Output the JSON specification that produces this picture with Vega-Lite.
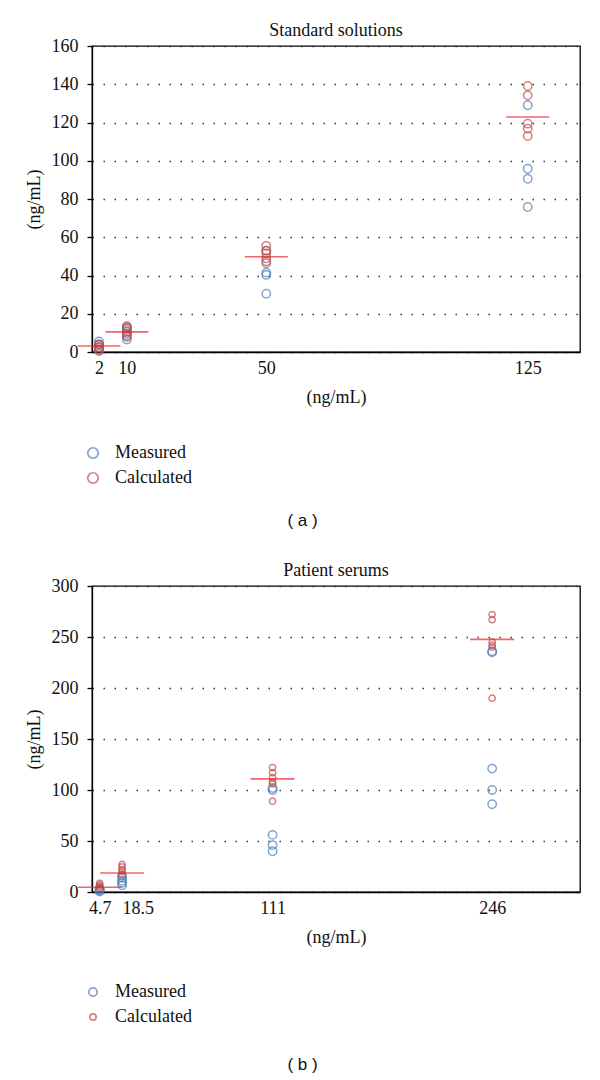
{
  "$schema": "https://vega.github.io/schema/vega-lite/v6.json",
  "background": "white",
  "padding": {"left": 24, "top": 21, "right": 20, "bottom": 5},
  "spacing": 32,
  "config": {
    "font": "Liberation Serif",
    "view": {"stroke": "#000", "strokeWidth": 1.3},
    "axis": {
      "labelFont": "Liberation Serif",
      "labelFontSize": 18,
      "labelColor": "#111",
      "labelOverlap": false,
      "titleFont": "Liberation Serif",
      "titleFontSize": 18,
      "titleFontWeight": "normal",
      "titleColor": "#111",
      "domainColor": "#000",
      "domainWidth": 1.3,
      "tickColor": "#000",
      "tickWidth": 1.3
    },
    "title": {"font": "Liberation Serif", "fontSize": 18, "fontWeight": "normal", "color": "#111"},
    "legend": {"labelFont": "Liberation Serif", "labelFontSize": 18, "labelColor": "#111"}
  },
  "datasets": {
    "a_points": [
      {"conc": 2, "series": "Measured", "value": 1.0},
      {"conc": 2, "series": "Measured", "value": 2.5},
      {"conc": 2, "series": "Measured", "value": 4.0},
      {"conc": 2, "series": "Measured", "value": 5.5},
      {"conc": 2, "series": "Calculated", "value": 0.5},
      {"conc": 2, "series": "Calculated", "value": 1.5},
      {"conc": 2, "series": "Calculated", "value": 2.5},
      {"conc": 2, "series": "Calculated", "value": 3.5},
      {"conc": 2, "series": "Calculated", "value": 4.0},
      {"conc": 10, "series": "Measured", "value": 6.5},
      {"conc": 10, "series": "Measured", "value": 8.5},
      {"conc": 10, "series": "Measured", "value": 10.5},
      {"conc": 10, "series": "Measured", "value": 12.0},
      {"conc": 10, "series": "Measured", "value": 13.0},
      {"conc": 10, "series": "Calculated", "value": 8.0},
      {"conc": 10, "series": "Calculated", "value": 9.5},
      {"conc": 10, "series": "Calculated", "value": 11.0},
      {"conc": 10, "series": "Calculated", "value": 12.5},
      {"conc": 10, "series": "Calculated", "value": 13.5},
      {"conc": 50, "series": "Measured", "value": 30.5},
      {"conc": 50, "series": "Measured", "value": 40.3},
      {"conc": 50, "series": "Measured", "value": 41.5},
      {"conc": 50, "series": "Measured", "value": 47.5},
      {"conc": 50, "series": "Measured", "value": 53.0},
      {"conc": 50, "series": "Calculated", "value": 46.5},
      {"conc": 50, "series": "Calculated", "value": 49.0},
      {"conc": 50, "series": "Calculated", "value": 51.5},
      {"conc": 50, "series": "Calculated", "value": 53.0},
      {"conc": 50, "series": "Calculated", "value": 55.5},
      {"conc": 125, "series": "Measured", "value": 75.8},
      {"conc": 125, "series": "Measured", "value": 90.6},
      {"conc": 125, "series": "Measured", "value": 95.8},
      {"conc": 125, "series": "Measured", "value": 129.0},
      {"conc": 125, "series": "Calculated", "value": 112.9},
      {"conc": 125, "series": "Calculated", "value": 116.8},
      {"conc": 125, "series": "Calculated", "value": 119.4},
      {"conc": 125, "series": "Calculated", "value": 134.2},
      {"conc": 125, "series": "Calculated", "value": 139.1}
    ],
    "a_means": [
      {"conc": 2, "value": 3.1},
      {"conc": 10, "value": 10.5},
      {"conc": 50, "value": 49.8},
      {"conc": 125, "value": 122.9}
    ],
    "b_points": [
      {"conc": 4.7, "series": "Measured", "value": 0.5},
      {"conc": 4.7, "series": "Measured", "value": 1.5},
      {"conc": 4.7, "series": "Measured", "value": 2.5},
      {"conc": 4.7, "series": "Measured", "value": 3.5},
      {"conc": 4.7, "series": "Calculated", "value": 4.0},
      {"conc": 4.7, "series": "Calculated", "value": 5.5},
      {"conc": 4.7, "series": "Calculated", "value": 7.0},
      {"conc": 4.7, "series": "Calculated", "value": 8.5},
      {"conc": 18.5, "series": "Measured", "value": 6.5},
      {"conc": 18.5, "series": "Measured", "value": 9.0},
      {"conc": 18.5, "series": "Measured", "value": 11.0},
      {"conc": 18.5, "series": "Measured", "value": 14.0},
      {"conc": 18.5, "series": "Measured", "value": 16.0},
      {"conc": 18.5, "series": "Calculated", "value": 17.0},
      {"conc": 18.5, "series": "Calculated", "value": 20.0},
      {"conc": 18.5, "series": "Calculated", "value": 22.0},
      {"conc": 18.5, "series": "Calculated", "value": 24.5},
      {"conc": 18.5, "series": "Calculated", "value": 27.0},
      {"conc": 111, "series": "Measured", "value": 40},
      {"conc": 111, "series": "Measured", "value": 46},
      {"conc": 111, "series": "Measured", "value": 56},
      {"conc": 111, "series": "Measured", "value": 100},
      {"conc": 111, "series": "Measured", "value": 102},
      {"conc": 111, "series": "Calculated", "value": 89},
      {"conc": 111, "series": "Calculated", "value": 106},
      {"conc": 111, "series": "Calculated", "value": 108},
      {"conc": 111, "series": "Calculated", "value": 112},
      {"conc": 111, "series": "Calculated", "value": 117},
      {"conc": 111, "series": "Calculated", "value": 122},
      {"conc": 246, "series": "Measured", "value": 86},
      {"conc": 246, "series": "Measured", "value": 100},
      {"conc": 246, "series": "Measured", "value": 121},
      {"conc": 246, "series": "Measured", "value": 235},
      {"conc": 246, "series": "Measured", "value": 236},
      {"conc": 246, "series": "Calculated", "value": 190},
      {"conc": 246, "series": "Calculated", "value": 240},
      {"conc": 246, "series": "Calculated", "value": 242},
      {"conc": 246, "series": "Calculated", "value": 245},
      {"conc": 246, "series": "Calculated", "value": 267},
      {"conc": 246, "series": "Calculated", "value": 272}
    ],
    "b_means": [
      {"conc": 4.7, "value": 4.6},
      {"conc": 18.5, "value": 18.6},
      {"conc": 111, "value": 110.9},
      {"conc": 246, "value": 247.7}
    ]
  },
  "vconcat": [
    {
      "title": {"text": "( a )", "orient": "bottom", "anchor": "middle", "font": "Liberation Sans", "fontSize": 17, "offset": 26},
      "vconcat": [
        {
          "title": {"text": "Standard solutions", "offset": -3},
          "width": 488,
          "height": 306,
          "encoding": {
            "x": {"field": "conc", "type": "quantitative", "scale": {"domain": [0, 140], "nice": false},
              "axis": {"values": [2, 10, 50, 125], "labelExpr": "toString(datum.value)", "ticks": false, "grid": false, "labelPadding": 7, "title": "(ng/mL)", "titlePadding": 11}},
            "y": {"field": "value", "type": "quantitative", "scale": {"domain": [0, 160], "nice": false},
              "axis": {"values": [0, 20, 40, 60, 80, 100, 120, 140, 160], "labelExpr": "toString(datum.value)", "grid": true, "gridDash": [1.5, 9.5], "gridColor": "#333", "gridWidth": 1.3, "tickSize": 5, "labelPadding": 9, "title": "(ng/mL)", "titlePadding": 8}}
          },
          "layer": [
            {
              "data": {"name": "a_points"},
              "mark": {"type": "point", "filled": false, "size": 70, "strokeWidth": 1.5},
              "encoding": {
                "color": {"field": "series", "type": "nominal", "sort": ["Measured", "Calculated"],
                  "scale": {"domain": ["Measured", "Calculated"], "range": ["#4a7ebb", "#c0504d"]},
                  "legend": {"title": null, "orient": "none", "legendX": -8, "legendY": 398, "symbolSize": 110, "symbolStrokeWidth": 1.7, "labelOffset": 13, "rowPadding": 7, "padding": 0}}
              }
            },
            {
              "data": {"name": "a_means"},
              "mark": {"type": "tick", "orient": "horizontal", "size": 43, "thickness": 1.6, "color": "#e8262a"}
            }
          ]
        }
      ]
    },
    {
      "title": {"text": "( b )", "orient": "bottom", "anchor": "middle", "font": "Liberation Sans", "fontSize": 17, "offset": 31},
      "vconcat": [
        {
          "title": {"text": "Patient serums", "offset": -3},
          "width": 488,
          "height": 306,
          "encoding": {
            "x": {"field": "conc", "type": "quantitative", "scale": {"domain": [0, 300], "nice": false},
              "axis": {"values": [4.7, 18.5, 111, 246], "labelExpr": "toString(datum.value)",
                "labelAlign": {"condition": {"test": "datum.value == 18.5", "value": "left"}, "value": "center"},
                "ticks": false, "grid": false, "labelPadding": 7, "title": "(ng/mL)", "titlePadding": 11}},
            "y": {"field": "value", "type": "quantitative", "scale": {"domain": [0, 300], "nice": false},
              "axis": {"values": [0, 50, 100, 150, 200, 250, 300], "labelExpr": "toString(datum.value)", "grid": true, "gridDash": [1.5, 9.5], "gridColor": "#333", "gridWidth": 1.3, "tickSize": 5, "labelPadding": 9, "title": "(ng/mL)", "titlePadding": 8}}
          },
          "layer": [
            {
              "data": {"name": "b_points"},
              "mark": {"type": "point", "filled": false, "strokeWidth": 1.5},
              "encoding": {
                "color": {"field": "series", "type": "nominal", "sort": ["Measured", "Calculated"],
                  "scale": {"domain": ["Measured", "Calculated"], "range": ["#4a7ebb", "#c0504d"]},
                  "legend": {"title": null, "orient": "none", "legendX": -8, "legendY": 397, "symbolSize": 110, "symbolStrokeWidth": 1.7, "labelOffset": 13, "rowPadding": 7, "padding": 0}},
                "size": {"field": "series", "type": "nominal", "scale": {"domain": ["Measured", "Calculated"], "range": [70, 40]}, "legend": null}
              }
            },
            {
              "data": {"name": "b_means"},
              "mark": {"type": "tick", "orient": "horizontal", "size": 44, "thickness": 1.6, "color": "#e8262a"}
            }
          ]
        }
      ]
    }
  ],
  "resolve": {"scale": {"color": "independent", "size": "independent"}, "legend": {"color": "independent"}}
}
